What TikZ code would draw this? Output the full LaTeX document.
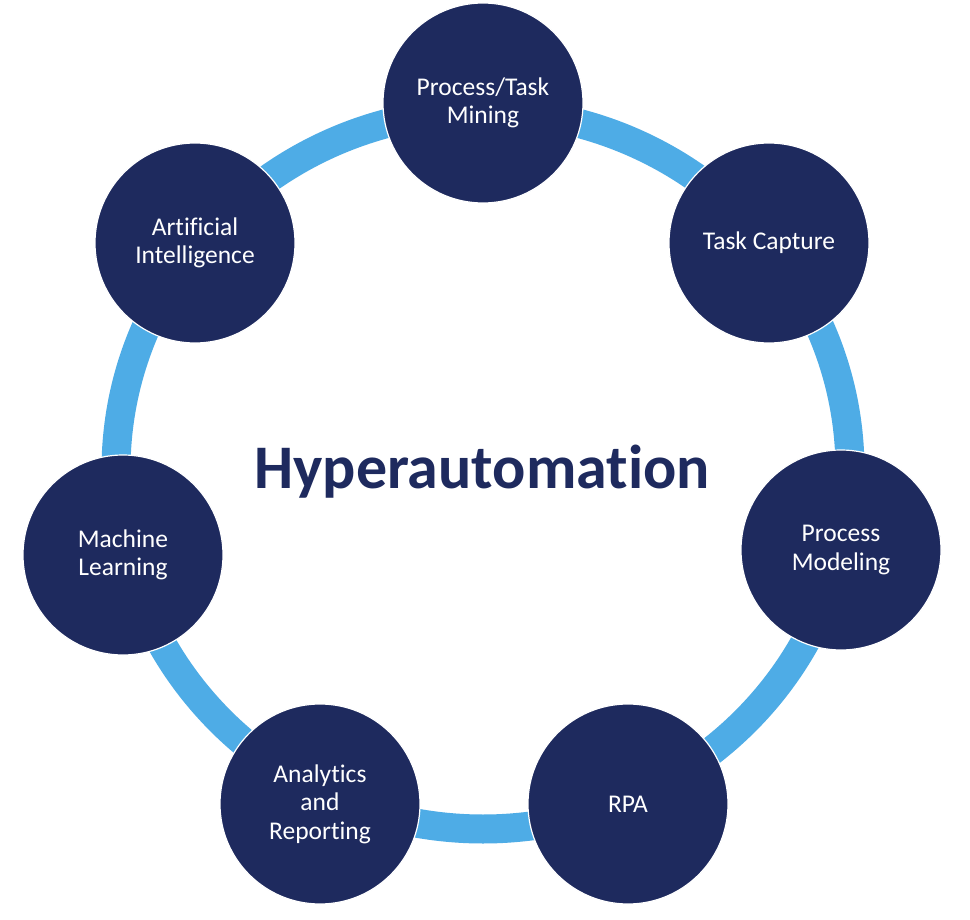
\documentclass[tikz,border=0pt]{standalone}
\usepackage{fontspec}
\setmainfont{Carlito}[Ligatures=NoCommon]
\definecolor{navy}{RGB}{30,42,94}
\definecolor{ringblue}{RGB}{78,172,230}
\begin{document}
\begin{tikzpicture}[x=1pt,y=-1pt,
  hub/.style={circle,minimum size=200pt,inner sep=0pt,fill=navy,draw=white,line width=1.2pt,
    text=white,align=center,font=\fontsize{25.5}{28.5}\selectfont},
  ringline/.style={draw=ringblue,line width=29pt},
  title/.style={text=navy,font=\fontsize{62}{70}\selectfont\bfseries}]
\useasboundingbox[fill=white] (0,0) rectangle (970,920);
\coordinate (c) at (483,470);
\draw[ringline] (c) ellipse [x radius=367pt, y radius=359pt];
\node[hub] (ptm) at (483,103) {Process/Task\\Mining};
\node[hub] (tc)  at (769,243) {Task Capture};
\node[hub] (pm)  at (841,550) {Process\\Modeling};
\node[hub] (rpa) at (628,804) {RPA};
\node[hub] (ar)  at (320,804) {Analytics\\and\\Reporting};
\node[hub] (ml)  at (123,555) {Machine\\Learning};
\node[hub] (ai)  at (195,243) {Artificial\\Intelligence};
\node[title] (t) at (482,472) {Hyperautomation};
\end{tikzpicture}
\end{document}
